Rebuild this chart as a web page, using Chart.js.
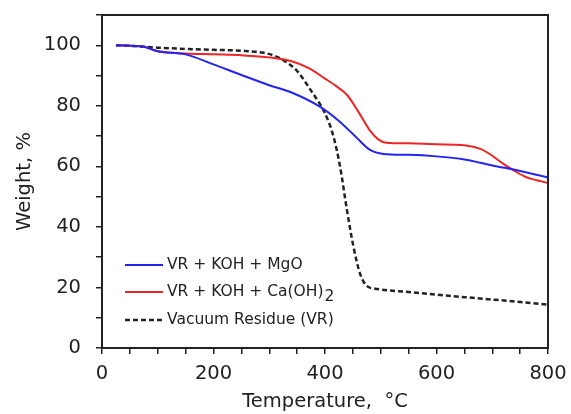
<!DOCTYPE html>
<html>
<head>
<meta charset="utf-8">
<script src="https://cdn.jsdelivr.net/npm/chart.js"></script>
<style>
  html, body { margin: 0; padding: 0; background: #fff; }
  #wrap { width: 571px; height: 414px; }
</style>
</head>
<body>
<div id="wrap"><canvas id="tga" width="571" height="414"></canvas></div>
<script>
// temperatures (°C) and weights (%)
const mgoTemp   = [25, 75, 100, 150, 200, 250, 300, 340, 390, 425, 455, 480, 505, 550, 600, 650, 700, 750, 800];
const mgoWeight = [100, 99.5, 98, 97, 93.7, 90.2, 86.8, 84.4, 79.8, 75, 69.8, 65.5, 64.1, 63.8, 63.3, 62.3, 60.3, 58.5, 56.3];

const caTemp   = [25, 75, 100, 150, 200, 250, 300, 340, 370, 400, 420, 440, 460, 480, 495, 510, 550, 600, 650, 680, 700, 720, 740, 760, 780, 800];
const caWeight = [100, 99.5, 98, 97.3, 97, 96.7, 96, 94.7, 92.5, 89, 86.5, 83.5, 78, 72, 69, 67.8, 67.6, 67.3, 67, 65.7, 63.5, 60.8, 58.5, 56.5, 55.4, 54.5];

const vrTemp   = [25, 50, 100, 150, 200, 250, 290, 310, 330, 350, 375, 400, 415, 427, 439, 451, 463, 475, 490, 500, 550, 600, 650, 700, 750, 800];
const vrWeight = [100, 99.8, 99.2, 98.8, 98.5, 98.2, 97.5, 96.5, 94.5, 91.5, 85, 77.5, 70, 60, 46, 33.5, 24.5, 20.5, 19.6, 19.3, 18.5, 17.6, 16.8, 16, 15.2, 14.3];

const seriesLabels = ['VR + KOH + MgO', 'VR + KOH + Ca(OH)', 'Vacuum Residue (VR)'];
const seriesSubs = ['', '2', ''];
const xTicks = [0, 200, 400, 600, 800];
const yTicks = [0, 20, 40, 60, 80, 100];

const pts = (t, w) => t.map((v, i) => ({ x: v, y: w[i] }));
const FONT = 'DejaVu Sans';

const frameAndLegend = {
  id: 'frameAndLegend',
  afterDraw(chart) {
    const { ctx, chartArea: a } = chart;
    ctx.save();
    ctx.strokeStyle = '#222';
    ctx.lineWidth = 2;
    ctx.strokeRect(a.left, a.top, a.right - a.left, a.bottom - a.top);

    const rows = [265, 292, 320];
    chart.data.datasets.forEach((ds, i) => {
      const y = rows[i];
      ctx.strokeStyle = ds.borderColor;
      ctx.lineWidth = ds.borderWidth;
      ctx.setLineDash(ds.borderDash || []);
      ctx.beginPath();
      ctx.moveTo(125, y);
      ctx.lineTo(163, y);
      ctx.stroke();
      ctx.setLineDash([]);
      ctx.fillStyle = '#222';
      ctx.font = '15.5px "' + FONT + '"';
      ctx.textBaseline = 'middle';
      ctx.fillText(ds.label, 167, y);
      if (ds.sub) {
        const w = ctx.measureText(ds.label).width;
        ctx.fillText(ds.sub, 167 + w + 1, y + 5);
      }
    });
    ctx.restore();
  }
};

new Chart(document.getElementById('tga'), {
  type: 'line',
  data: {
    datasets: [
      {
        label: seriesLabels[0], sub: seriesSubs[0],
        data: pts(mgoTemp, mgoWeight),
        borderColor: '#2424f0', borderWidth: 2,
      },
      {
        label: seriesLabels[1], sub: seriesSubs[1],
        data: pts(caTemp, caWeight),
        borderColor: '#f02424', borderWidth: 2,
      },
      {
        label: seriesLabels[2], sub: seriesSubs[2],
        data: pts(vrTemp, vrWeight),
        borderColor: '#222', borderWidth: 2.5, borderDash: [5, 3],
      },
    ],
  },
  options: {
    responsive: false,
    animation: false,
    layout: { padding: { top: 15, right: 23, left: 0, bottom: 0 } },
    elements: {
      point: { radius: 0 },
      line: { cubicInterpolationMode: 'monotone', fill: false },
    },
    plugins: { legend: { display: false }, tooltip: { enabled: false } },
    scales: {
      x: {
        type: 'linear', min: 0, max: 800,
        afterFit: s => { s.height = 66; s.paddingLeft = 0; s.paddingRight = 0; },
        border: { display: true, color: '#222', width: 2 },
        grid: { drawOnChartArea: false, drawTicks: true, tickLength: 6, color: '#222', lineWidth: 1.5 },
        ticks: {
          stepSize: 50, autoSkip: false, maxRotation: 0, padding: 8,
          color: '#222', font: { family: FONT, size: 19.5 },
          callback: v => xTicks.includes(v) ? String(v) : '',
        },
        title: {
          display: true, text: 'Temperature,  °C', color: '#222',
          font: { family: FONT, size: 19.5 }, padding: { top: 0, bottom: 0 },
        },
      },
      y: {
        min: 0, max: 110,
        afterFit: s => { s.width = 102; s.paddingTop = 0; s.paddingBottom = 0; },
        border: { display: true, color: '#222', width: 2 },
        grid: { drawOnChartArea: false, drawTicks: true, tickLength: 6, color: '#222', lineWidth: 1.5 },
        ticks: {
          stepSize: 10, autoSkip: false, padding: 15,
          color: '#222', font: { family: FONT, size: 19.5 },
          callback: v => yTicks.includes(v) ? String(v) : '',
        },
        title: {
          display: true, text: 'Weight, %', color: '#222',
          font: { family: FONT, size: 19.5 }, padding: { top: 13, bottom: 0 },
        },
      },
    },
  },
  plugins: [frameAndLegend],
});
</script>
</body>
</html>
